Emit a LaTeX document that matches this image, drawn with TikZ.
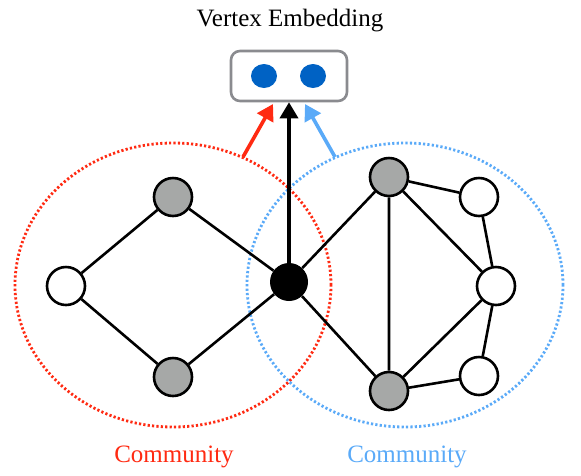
\documentclass[tikz,border=0pt]{standalone}
\usepackage{fontspec}
\setmainfont{Liberation Serif}
\usepackage{tikz}
\usetikzlibrary{arrows.meta,positioning,shapes.geometric}
\definecolor{commred}{HTML}{FF2A12}
\definecolor{commblue}{HTML}{5AAAF8}
\definecolor{vgray}{HTML}{A6A8A7}
\definecolor{boxgray}{HTML}{8A8B8F}
\definecolor{dotblue}{HTML}{0062C4}

\begin{document}
\begin{tikzpicture}[x=1pt, y=-1pt, >=Stealth,
    vertex/.style={circle, draw, line width=2.6pt, minimum size=38pt, inner sep=0pt},
    hub/.style={circle, fill=black, minimum size=38pt, inner sep=0pt},
    edge/.style={line width=2.6pt},
    community/.style={ellipse, draw, line width=2.8pt, dash pattern=on 2.2pt off 2.2pt,
        minimum width=316pt, minimum height=284pt, inner sep=0pt},
    embarrow/.style={-{Triangle[width=18pt,length=16pt]}, line width=3.6pt},
    label/.style={font=\fontsize{25}{30}\selectfont, inner sep=0pt}]
    \useasboundingbox (0,0) rectangle (581,475);

    % Communities
    \node[community, draw=commred] (redcomm) at (173,285) {};
    \node[community, draw=commblue] (bluecomm) at (405,285) {};

    % Embedding
    \node[label] (title) at (290,21) {Vertex Embedding};
    \node[draw=boxgray, line width=2.6pt, rounded corners=9pt, minimum width=116pt,
        minimum height=50pt] (embed) at (289,76) {};
    \node[ellipse, fill=dotblue, minimum width=26pt, minimum height=24pt, inner sep=0pt] (dim1) at (264,76) {};
    \node[ellipse, fill=dotblue, minimum width=26pt, minimum height=24pt, inner sep=0pt] (dim2) at (313,76) {};

    % Vertices
    \node[hub] (center) at (289,282) {};
    \node[vertex, fill=vgray] (ltop) at (173,197) {};
    \node[vertex, fill=white] (lmid) at (66,286) {};
    \node[vertex, fill=vgray] (lbot) at (173,377) {};
    \node[vertex, fill=vgray] (rtop) at (389,177) {};
    \node[vertex, fill=vgray] (rbot) at (389,391) {};
    \node[vertex, fill=white] (wtop) at (479,197) {};
    \node[vertex, fill=white] (wmid) at (496,286) {};
    \node[vertex, fill=white] (wbot) at (479,376) {};

    % Edges
    \draw[edge] (ltop) -- (lmid) -- (lbot) -- (center) -- (ltop);
    \draw[edge] (center) -- (rtop) -- (rbot) -- (center);
    \draw[edge] (rtop) -- (wtop) -- (wmid) -- (wbot) -- (rbot) -- (wmid) -- (rtop);

    % Arrows
    \coordinate (redstart) at (243,157);
    \coordinate (redend) at (273,104);
    \coordinate (bluestart) at (335,157);
    \coordinate (blueend) at (305,104);
    \draw[embarrow] (center) -- (embed.south);
    \draw[embarrow, commred] (redstart) -- (redend);
    \draw[embarrow, commblue] (bluestart) -- (blueend);

    % Labels
    \node[label, text=commred] (redlabel) at (174,457) {Community};
    \node[label, text=commblue] (bluelabel) at (407,457) {Community};
\end{tikzpicture}
\end{document}
